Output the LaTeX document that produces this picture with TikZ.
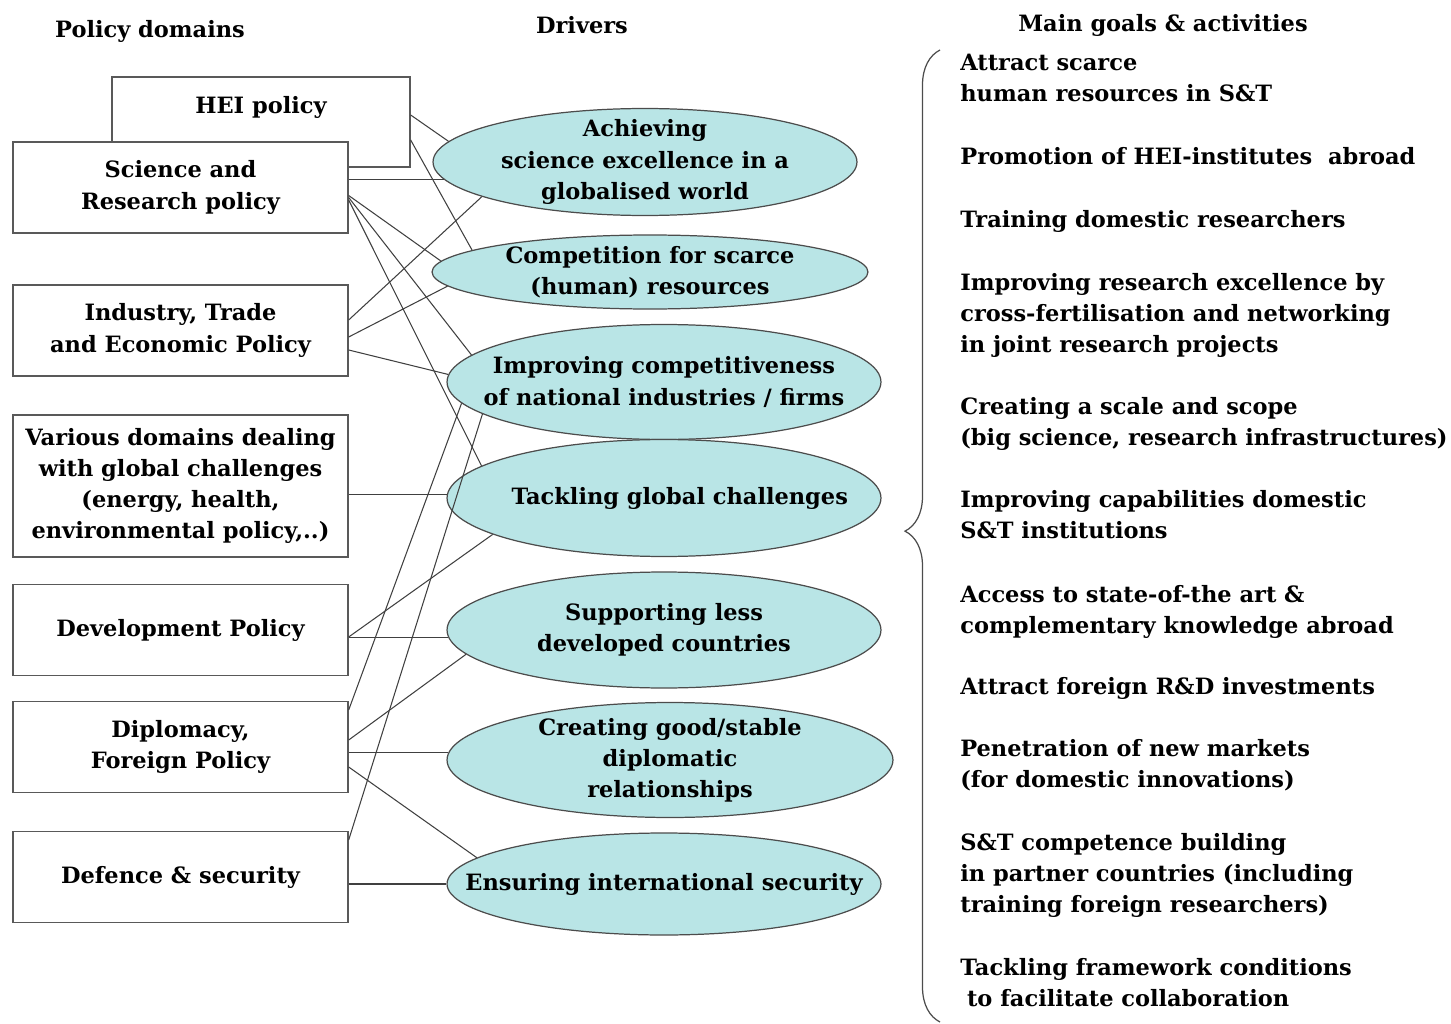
\documentclass[tikz,border=0pt]{standalone}
\usepackage{fontspec}
\setmainfont{DejaVu Serif}
\usetikzlibrary{shapes.geometric,decorations.pathreplacing}
\definecolor{drvfill}{RGB}{185,229,230}

\begin{document}
\begin{tikzpicture}[x=0.02cm,y=-0.02cm,
 every node/.style={font=\bfseries\fontsize{12.8}{17.7}\selectfont},
 dom/.style={rectangle,draw=black!65,fill=white,line width=0.8pt,minimum width=6.7cm,minimum height=1.82cm,align=center,inner sep=1pt},
 drv/.style={ellipse,draw=black!70,fill=drvfill,line width=0.7pt,align=center,inner sep=-3cm},
 goal/.style={anchor=north west,align=left,inner sep=0pt},
 lnk/.style={draw=black!75,line width=0.6pt}]
\useasboundingbox (0,0) rectangle (1451,1024);

\node (h1) at (150,31) {Policy domains};
\node (h2) at (582,25) {Drivers};
\node (h3) at (1163,25) {Main goals \& activities};

\node [dom,minimum width=5.96cm,minimum height=1.8cm,text height=0.72cm,text depth=1.08cm,inner ysep=0pt] (hei) at (261,122) {HEI policy};
\node [dom] (sr) at (180.5,187.5) {Science and\\Research policy};
\node [dom] (ite) at (180.5,330.5) {Industry, Trade\\and Economic Policy};
\node [dom,minimum height=2.84cm] (var) at (180.5,486) {Various domains dealing\\with global challenges\\(energy, health,\\environmental policy,..)};
\node [dom] (dev) at (180.5,630) {Development Policy};
\node [dom] (dip) at (180.5,747) {Diplomacy,\\Foreign Policy};
\node [dom] (def) at (180.5,877) {Defence \& security};

\node [drv,minimum width=8.48cm,minimum height=2.14cm] (e1) at (645,162) {Achieving\\science excellence in a\\globalised world};
\node [drv,minimum width=8.72cm,minimum height=1.48cm] (e2) at (650,272) {Competition for scarce\\(human) resources};
\node [drv,minimum width=8.68cm,minimum height=2.3cm] (e3) at (664,382) {Improving competitiveness\\of national industries / firms};
\node [drv,minimum width=8.68cm,minimum height=2.34cm] (e4) at (664,498) {\hspace{1.4em}Tackling global challenges};
\node [drv,minimum width=8.68cm,minimum height=2.32cm] (e5) at (664,630) {Supporting less\\developed countries};
\node [drv,minimum width=8.92cm,minimum height=2.3cm] (e6) at (670,760) {Creating good/stable\\diplomatic\\relationships};
\node [drv,minimum width=8.68cm,minimum height=2.04cm] (e7) at (664,884) {Ensuring international security};

\draw[lnk] ([yshift=0.14cm]hei.east) -- (e1.174);
\draw[lnk] ([yshift=-0.36cm]hei.east) -- (e2.173);
\draw[lnk] (sr.east |- e1.185) -- (e1.185);
\draw[lnk] ([yshift=-0.16cm]sr.east) -- (e2.177);
\draw[lnk] ([yshift=-0.2cm]sr.east) -- (e3.172);
\draw[lnk] ([yshift=-0.25cm]sr.east) -- (e4.170);
\draw[lnk] ([yshift=0.21cm]ite.east) -- (e1.192);
\draw[lnk] ([yshift=-0.13cm]ite.east) -- (e2.184);
\draw[lnk] ([yshift=-0.39cm]ite.east) -- (e3.178);
\draw[lnk] (var.east |- e4.179) -- (e4.179);
\draw[lnk] (dev.east |- e5.182) -- (e5.182);
\draw[lnk] ([yshift=-0.14cm]dev.east) -- (e4.192);
\draw[lnk] ([yshift=0.74cm]dip.east) -- (e3.186);
\draw[lnk] ([yshift=0.14cm]dip.east) -- (e5.187);
\draw[lnk] (dip.east |- e6.178) -- (e6.178);
\draw[lnk] ([yshift=-0.4cm]dip.east) -- (e7.172);
\draw[lnk] ([yshift=0.74cm]def.east) -- (e3.190);
\draw[lnk] (def.east |- e7.180) -- (e7.180);

\coordinate (brt) at (940,50);
\coordinate (brb) at (940,1022);
\draw[black!70,line width=0.7pt,decorate,decoration={brace,amplitude=0.7cm,aspect=0.505}] (brb) -- (brt);

\node [goal] (g1) at (960,54) {Attract scarce\\human resources in S\&T};
\node [goal] (g2) at (960,147) {Promotion of HEI-institutes \ abroad};
\node [goal] (g3) at (960,210) {Training domestic researchers};
\node [goal] (g4) at (960,273) {Improving research excellence by\\cross-fertilisation and networking\\in joint research projects};
\node [goal] (g5) at (960,397) {Creating a scale and scope\\(big science, research infrastructures)};
\node [goal] (g6) at (960,490) {Improving capabilities domestic\\S\&T institutions};
\node [goal] (g7) at (960,585) {Access to state-of-the art \&\\complementary knowledge abroad};
\node [goal] (g8) at (960,677) {Attract foreign R\&D investments};
\node [goal] (g9) at (960,739) {Penetration of new markets\\(for domestic innovations)};
\node [goal] (g10) at (960,833) {S\&T competence building\\in partner countries (including\\training foreign researchers)};
\node [goal] (g11) at (960,958) {Tackling framework conditions\\\hspace{0.3em}to facilitate collaboration};
\end{tikzpicture}
\end{document}
